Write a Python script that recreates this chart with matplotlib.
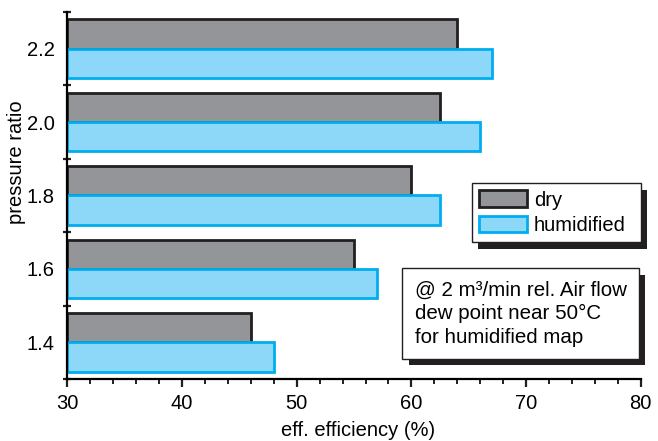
import numpy as np
import matplotlib
matplotlib.use("Agg")
import matplotlib.pyplot as plt
from matplotlib import patheffects

plt.rcParams['font.family'] = ['Liberation Sans', 'DejaVu Sans']

# pressure ratios (bottom to top) and efficiency in %
ratios = [1.4, 1.6, 1.8, 2.0, 2.2]
ratio_labels = ['1.4', '1.6', '1.8', '2.0', '2.2']
eff_dry = [46, 55, 60, 62.5, 64]
eff_hum = [48, 57, 62.5, 66, 67]

x0 = 30
bar_h = 0.08

fig = plt.figure(figsize=(6.58, 4.41), dpi=100)
ax = fig.add_axes([0.1024, 0.1406, 0.8713, 0.8322])

y = np.array(ratios)
b1 = ax.barh(y + bar_h / 2, np.array(eff_dry) - x0, height=bar_h, left=x0,
             color='#939598', edgecolor='#231f20', linewidth=2, label='dry')
b2 = ax.barh(y - bar_h / 2, np.array(eff_hum) - x0, height=bar_h, left=x0,
             color='#8dd8f8', edgecolor='#00aeef', linewidth=2, label='humidified')

ax.set_xlim(30, 80)
ax.set_ylim(1.3, 2.3)

ax.spines['top'].set_visible(False)
ax.spines['right'].set_visible(False)
ax.spines['left'].set_linewidth(1.6)
ax.spines['bottom'].set_linewidth(1.6)
ax.spines['left'].set_zorder(5)

ax.set_xticks(np.arange(30, 81, 10))
ax.set_xticks(np.arange(30, 81, 2), minor=True)
ax.tick_params(axis='x', which='major', direction='out', length=6, width=1.6,
               labelsize=14.5, pad=5, color='#231f20')
ax.tick_params(axis='x', which='minor', direction='out', length=3.5, width=1.4,
               color='#231f20')

# group boundaries get ticks, labels sit at the group centres
ax.set_yticks(np.arange(1.3, 2.31, 0.2))
ax.set_yticklabels([])
ax.set_yticks(ratios, minor=True)
ax.set_yticklabels(ratio_labels, minor=True)
ax.tick_params(axis='y', which='major', direction='inout', length=6, width=1.6,
               color='#231f20')
ax.tick_params(axis='y', which='minor', length=0, labelsize=14.5, pad=9)

ax.set_xlabel('eff. efficiency (%)', fontsize=14.5)
ax.xaxis.set_label_coords(0.507, -0.115)
ax.set_ylabel('pressure ratio', fontsize=14.5)
ax.yaxis.set_label_coords(-0.073, 0.59)

shadow = [patheffects.SimplePatchShadow(offset=(4.6, -4.6), shadow_rgbFace='#231f20', alpha=1),
          patheffects.Normal()]

# expand mode keeps the frame wide, spare room ends up right of the labels
leg = ax.legend(loc='upper left', bbox_to_anchor=(0.705, 0.533, 0.2955, 0), mode='expand',
                borderaxespad=0, fontsize=14.5, fancybox=False, framealpha=1,
                edgecolor='#231f20', handlelength=2.4, handleheight=0.9,
                handletextpad=0.35, labelspacing=0.3, borderpad=0.35)
leg.get_frame().set_linewidth(1.0)
leg.get_frame().set_path_effects(shadow)

txt = ax.text(0.606, 0.268, '@ 2 m³/min rel. Air flow\ndew point near 50°C\nfor humidified map',
              transform=ax.transAxes, ha='left', va='top', fontsize=14.8, linespacing=1.3,
              bbox=dict(boxstyle='square,pad=0.6', facecolor='white', edgecolor='#231f20',
                        linewidth=1.0))
txt.get_bbox_patch().set_path_effects(shadow)

fig.savefig('out.png', dpi=100)
